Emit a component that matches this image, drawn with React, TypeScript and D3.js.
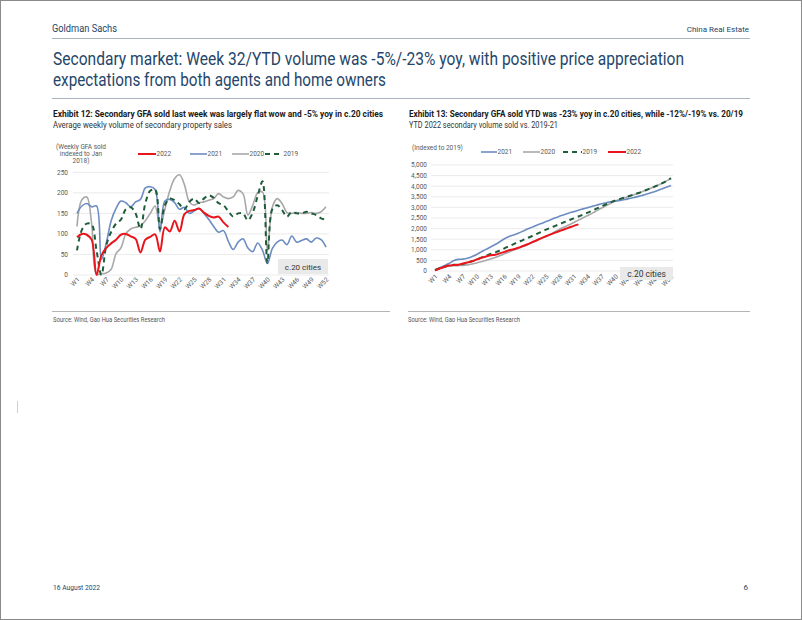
import React from "react";
import * as d3 from "d3";

const weeks = ["W1","W2","W3","W4","W5","W6","W7","W8","W9","W10","W11","W12","W13","W14","W15","W16","W17","W18","W19","W20","W21","W22","W23","W24","W25","W26","W27","W28","W29","W30","W31","W32","W33","W34","W35","W36","W37","W38","W39","W40","W41","W42","W43","W44","W45","W46","W47","W48","W49","W50","W51","W52"];
const tickWeeks = ["W1","W4","W7","W10","W13","W16","W19","W22","W25","W28","W31","W34","W37","W40","W43","W46","W49","W52"];
const leftTickLabels = ["W1","W4","W7","W10","W13","W16","W19","W22","W25","W28","W31","W34","W37","W40","W43","W46","W49","W52"];
const rightTickLabels = ["W1","W4","W7","W10","W13","W16","W19","W22","W25","W28","W31","W34","W37","W40","W4…","W4…","W4…","W5…"];

// Exhibit 12: weekly GFA sold (indexed to Jan 2018)
const weekly2022 = [92,100,98,86,0,48,66,77,86,98,100,94,88,55,86,93,99,57,116,106,132,106,148,156,158,162,152,144,140,142,128,117];
const weekly2021 = [150,168,174,166,168,38,78,132,162,180,176,166,178,184,212,215,208,105,180,184,176,160,165,150,156,162,150,135,118,104,108,82,62,80,88,66,57,78,60,28,64,80,85,74,95,80,84,88,80,90,86,68];
const weekly2020 = [118,183,190,125,2,3,5,14,52,66,100,112,116,120,132,150,168,118,160,205,235,244,220,178,170,176,178,182,186,198,190,186,190,206,198,146,170,200,202,58,165,186,174,152,150,152,150,150,152,150,154,166];
const weekly2019 = [60,110,125,123,60,0,72,105,125,135,160,165,150,112,175,205,208,112,170,186,182,172,160,178,186,175,186,194,188,175,170,155,142,150,150,133,152,192,228,30,160,170,158,142,154,150,150,154,150,146,138,135];

// Exhibit 13: YTD cumulative volume (indexed to 2019)
const ytd2021 = [40,150,250,350,480,550,560,600,680,780,900,1020,1130,1250,1380,1520,1630,1700,1780,1880,1980,2070,2160,2240,2330,2420,2510,2590,2670,2740,2800,2870,2930,2990,3050,3110,3170,3220,3270,3300,3330,3370,3420,3470,3520,3580,3640,3710,3790,3870,3950,4030];
const ytd2020 = [30,100,170,230,250,255,265,290,330,380,440,500,570,640,720,810,900,990,1070,1150,1240,1340,1440,1540,1640,1740,1860,1980,2080,2180,2290,2400,2510,2620,2730,2850,2970,3090,3200,3300,3380,3450,3530,3600,3680,3760,3850,3940,4030,4130,4240,4360];
const ytd2019 = [50,130,200,260,290,300,330,390,460,540,630,720,810,880,960,1070,1170,1270,1370,1460,1560,1650,1750,1850,1950,2040,2130,2220,2310,2400,2480,2570,2660,2750,2850,2950,3050,3150,3240,3330,3400,3470,3540,3610,3680,3760,3850,3940,4030,4130,4250,4380];
const ytd2022 = [30,120,200,260,280,300,350,400,460,540,620,680,740,770,830,900,980,1030,1100,1180,1260,1360,1450,1550,1640,1730,1810,1890,1970,2050,2130,2200];

const leftYTicks = [0,50,100,150,200,250];
const rightYTicks = [0,500,1000,1500,2000,2500,3000,3500,4000,4500,5000];

const FONT = "Roboto, 'Liberation Sans', Arial, sans-serif";
const RED = "#e8161c";
const BLUE = "#6c8cc2";
const GRAY = "#a8a8a8";
const GREEN = "#1f5c3a";
const NAVY = "#25466a";
const AXIS = "#595959";

export default function App() {
  const xL = d3.scalePoint<string>().domain(weeks).range([77, 326]);
  const yL = d3.scaleLinear().domain([0, 250]).range([275, 172.3]);
  const xR = d3.scalePoint<string>().domain(weeks).range([435, 671]);
  const yR = d3.scaleLinear().domain([0, 5000]).range([271, 165]);

  const lineL = d3.line<number>().x((_, i) => xL(weeks[i]) as number).y((d) => yL(d)).curve(d3.curveCatmullRom.alpha(0.5));
  const lineR = d3.line<number>().x((_, i) => xR(weeks[i]) as number).y((d) => yR(d)).curve(d3.curveCatmullRom.alpha(0.5));
  const fmt = d3.format(",");

  const leftSeries = [
    { name: "2020", data: weekly2020, color: GRAY, w: 1.6, dash: undefined },
    { name: "2021", data: weekly2021, color: BLUE, w: 1.6, dash: undefined },
    { name: "2019", data: weekly2019, color: GREEN, w: 2, dash: "5,4" },
    { name: "2022", data: weekly2022, color: RED, w: 2, dash: undefined },
  ];
  const rightSeries = [
    { name: "2020", data: ytd2020, color: GRAY, w: 1.6, dash: undefined },
    { name: "2021", data: ytd2021, color: BLUE, w: 1.6, dash: undefined },
    { name: "2019", data: ytd2019, color: GREEN, w: 2, dash: "5,4" },
    { name: "2022", data: ytd2022, color: RED, w: 2, dash: undefined },
  ];
  const leftLegend = [
    { name: "2022", color: RED, w: 2, dash: undefined, x0: 138, x1: 156 },
    { name: "2021", color: BLUE, w: 1.6, dash: undefined, x0: 190, x1: 207 },
    { name: "2020", color: GRAY, w: 1.6, dash: undefined, x0: 232, x1: 249 },
    { name: "2019", color: GREEN, w: 2, dash: "5,4", x0: 265, x1: 283 },
  ];
  const rightLegend = [
    { name: "2021", color: BLUE, w: 1.6, dash: undefined, x0: 481, x1: 497 },
    { name: "2020", color: GRAY, w: 1.6, dash: undefined, x0: 523, x1: 540 },
    { name: "2019", color: GREEN, w: 2, dash: "5,4", x0: 563, x1: 582 },
    { name: "2022", color: RED, w: 2, dash: undefined, x0: 608, x1: 626 },
  ];

  return (
    <svg width={802} height={620} style={{ position: "absolute", left: 0, top: 0, background: "#fff" }} fontFamily={FONT}>
      <rect x={0.5} y={0.5} width={801} height={619} fill="#fff" stroke="#8a8a8a" />
      {/* header */}
      <text x={52} y={32} fontSize={10} fill={NAVY} textLength={65} lengthAdjust="spacingAndGlyphs">Goldman Sachs</text>
      <text x={749} y={32} fontSize={8} fill={NAVY} textAnchor="end">China Real Estate</text>
      <line x1={52} x2={750} y1={38.5} y2={38.5} stroke="#a9b3bd" strokeWidth={1} />
      <text x={53} y={65} fontSize={19} fill={NAVY} textLength={631} lengthAdjust="spacingAndGlyphs">Secondary market: Week 32/YTD volume was -5%/-23% yoy, with positive price appreciation</text>
      <text x={53} y={86} fontSize={19} fill={NAVY} textLength={333} lengthAdjust="spacingAndGlyphs">expectations from both agents and home owners</text>
      <line x1={52} x2={750} y1={98.5} y2={98.5} stroke="#a9b3bd" strokeWidth={1} />

      {/* Exhibit 12 titles */}
      <text x={53} y={117} fontSize={8.5} fontWeight="bold" fill="#1a1a1a" textLength={330} lengthAdjust="spacingAndGlyphs">Exhibit 12: Secondary GFA sold last week was largely flat wow and -5% yoy in c.20 cities</text>
      <text x={53} y={128} fontSize={8.5} fill="#333" textLength={179} lengthAdjust="spacingAndGlyphs">Average weekly volume of secondary property sales</text>

      {/* Exhibit 13 titles */}
      <text x={409} y={117} fontSize={8.5} fontWeight="bold" fill="#1a1a1a" textLength={334} lengthAdjust="spacingAndGlyphs">Exhibit 13: Secondary GFA sold YTD was -23% yoy in c.20 cities, while -12%/-19% vs. 20/19</text>
      <text x={409} y={128} fontSize={8.5} fill="#333" textLength={149} lengthAdjust="spacingAndGlyphs">YTD 2022 secondary volume sold vs. 2019-21</text>

      {/* Left chart */}
      <g>
        <text x={81} y={149} fontSize={6.5} fill={AXIS} textAnchor="middle">(Weekly GFA sold</text>
        <text x={81} y={156} fontSize={6.5} fill={AXIS} textAnchor="middle">indexed to Jan</text>
        <text x={81} y={163} fontSize={6.5} fill={AXIS} textAnchor="middle">2018)</text>
        {leftYTicks.map((t) => (
          <g key={t}>
            <line x1={73} x2={329} y1={yL(t)} y2={yL(t)} stroke="#e6e6e6" strokeWidth={0.8} />
            <text x={68} y={yL(t) + 2.3} fontSize={6.5} fill={AXIS} textAnchor="end">{t}</text>
          </g>
        ))}
        {tickWeeks.map((w, i) => (
          <text key={w} transform={`translate(${(xL(w) as number) + 3},${280}) rotate(-45)`} fontSize={6.5} fill={AXIS} textAnchor="end">{leftTickLabels[i]}</text>
        ))}
        {leftSeries.map((s) => (
          <path key={s.name} d={lineL(s.data) || ""} fill="none" stroke={s.color} strokeWidth={s.w} strokeDasharray={s.dash} />
        ))}
        {leftLegend.map((l) => (
          <g key={l.name}>
            <line x1={l.x0} x2={l.x1} y1={154} y2={154} stroke={l.color} strokeWidth={l.w} strokeDasharray={l.dash} />
            <text x={l.x1 + 0.5} y={156.3} fontSize={6.5} fill={AXIS}>{l.name}</text>
          </g>
        ))}
        <rect x={278} y={259} width={50} height={15} fill="#e9e9e9" />
        <text x={303} y={269.5} fontSize={8} fill="#333" textAnchor="middle">c.20 cities</text>
      </g>

      {/* Right chart */}
      <g>
        <text x={412} y={150} fontSize={6.5} fill={AXIS}>(Indexed to 2019)</text>
        {rightYTicks.map((t) => (
          <g key={t}>
            <line x1={431} x2={673} y1={yR(t)} y2={yR(t)} stroke="#e6e6e6" strokeWidth={0.8} />
            <text x={427} y={yR(t) + 2.3} fontSize={6.5} fill={AXIS} textAnchor="end">{fmt(t)}</text>
          </g>
        ))}
        {tickWeeks.map((w, i) => (
          <text key={w} transform={`translate(${(xR(w) as number) + 3},${277}) rotate(-45)`} fontSize={6.5} fill={AXIS} textAnchor="end">{rightTickLabels[i]}</text>
        ))}
        {rightSeries.map((s) => (
          <path key={s.name} d={lineR(s.data) || ""} fill="none" stroke={s.color} strokeWidth={s.w} strokeDasharray={s.dash} />
        ))}
        {rightLegend.map((l) => (
          <g key={l.name}>
            <line x1={l.x0} x2={l.x1} y1={152} y2={152} stroke={l.color} strokeWidth={l.w} strokeDasharray={l.dash} />
            <text x={l.x1 + 0.5} y={154.3} fontSize={6.5} fill={AXIS}>{l.name}</text>
          </g>
        ))}
        <rect x={620} y={267} width={53} height={13} fill="#e9e9e9" />
        <text x={646.5} y={276.5} fontSize={8.5} fill="#333" textAnchor="middle">c.20 cities</text>
      </g>

      {/* sources */}
      <line x1={52} x2={390} y1={311.5} y2={311.5} stroke="#b5b5b5" strokeWidth={1} />
      <text x={53} y={322} fontSize={6.8} fill="#555" textLength={112} lengthAdjust="spacingAndGlyphs">Source: Wind, Gao Hua Securities Research</text>
      <line x1={408} x2={750} y1={311.5} y2={311.5} stroke="#b5b5b5" strokeWidth={1} />
      <text x={408} y={322} fontSize={6.8} fill="#555" textLength={112} lengthAdjust="spacingAndGlyphs">Source: Wind, Gao Hua Securities Research</text>

      <line x1={17.5} x2={17.5} y1={401} y2={413} stroke="#d0d0d0" strokeWidth={1} />

      {/* footer */}
      <text x={53} y={590} fontSize={8} fill={NAVY} textLength={47} lengthAdjust="spacingAndGlyphs">16 August 2022</text>
      <text x={748} y={590} fontSize={8} fill={NAVY} textAnchor="end">6</text>
    </svg>
  );
}
